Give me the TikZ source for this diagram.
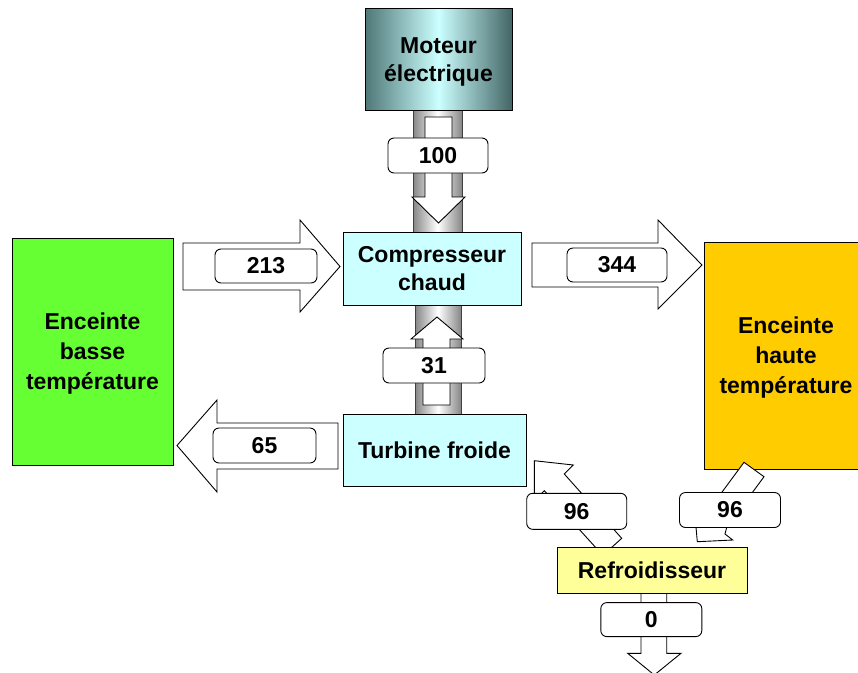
\documentclass[tikz,border=0pt]{standalone}
\usepackage{fontspec}
\setmainfont{Liberation Sans}
\definecolor{cyanbox}{HTML}{CCFFFF}
\definecolor{greenbox}{HTML}{66FF33}
\definecolor{orangebox}{HTML}{FFCC00}
\definecolor{yellowbox}{HTML}{FFFF99}
\definecolor{motdark}{HTML}{4F7777}
\definecolor{motlight}{HTML}{CCFFFF}
\begin{document}
\begin{tikzpicture}[x=1pt,y=-1pt,
  box/.style={draw=black, line width=0.9pt, align=center, inner sep=0pt, outer sep=0pt,
    font=\fontsize{23}{28}\selectfont\bfseries},
  tallbox/.style={box, font=\fontsize{23}{30}\selectfont\bfseries},
  boxtext/.style={align=center, inner sep=0pt, outer sep=0pt, draw=none},
  lbl/.style={draw=black, fill=white, rounded corners=6pt, line width=0.9pt,
    minimum width=101pt, minimum height=35pt, inner sep=0pt, outer sep=0pt,
    font=\fontsize{23}{28}\selectfont\bfseries},
  barrow/.style={draw=black, fill=white, line width=0.9pt, line join=miter},
  shaft/.style={left color=gray!95, right color=gray!95, middle color=white,
    draw=gray!50!black, line width=0.6pt}]
\clip (0,0) rectangle (858,672);
% shafts
\path[shaft] (413,110) rectangle (462,232);
\path[shaft] (415,305) rectangle (461,414);
% main boxes
\node[box, left color=motdark, right color=motdark!85!black, middle color=motlight,
  minimum width=147pt, minimum height=102pt] (mot) at (438.5,59) {};
\node[boxtext, font=\fontsize{23}{28}\selectfont\bfseries] (mottxt) at (438.5,61.5) {Moteur\\électrique};
\node[box, fill=cyanbox, minimum width=178pt, minimum height=73pt] (comp) at (432,268.5) {Compresseur\\chaud};
\node[box, fill=cyanbox, minimum width=183pt, minimum height=72pt] (turb) at (434.5,450) {Turbine froide};
\node[box, fill=greenbox, minimum width=161pt, minimum height=227pt] (basse) at (92.5,351.5) {};
\node[boxtext, font=\fontsize{23}{30}\selectfont\bfseries] (bassetxt) at (92.5,354) {Enceinte\\basse\\température};
\node[box, fill=orangebox, minimum width=164pt, minimum height=227pt] (haute) at (786,355.5) {};
\node[boxtext, font=\fontsize{23}{30}\selectfont\bfseries] (hautetxt) at (786,358) {Enceinte\\haute\\température};
% block arrows
% 100 : moteur -> compresseur
\draw[barrow] (425,117) -- (452,117) -- (452,197) -- (465,197) -- (438.5,223) -- (412,197) -- (425,197) -- cycle;
% 31 : turbine -> compresseur
\draw[barrow] (423,405) -- (450,405) -- (450,339) -- (463,339) -- (437,317) -- (411,339) -- (423,339) -- cycle;
% 213 : basse -> compresseur
\draw[barrow] (183,243) -- (300,243) -- (300,220) -- (340,266.5) -- (300,312) -- (300,290) -- (183,290) -- cycle;
% 344 : compresseur -> haute
\draw[barrow] (532,243) -- (658,243) -- (658,220) -- (702,265) -- (658,309) -- (658,287) -- (532,287) -- cycle;
% 65 : turbine -> basse
\draw[barrow] (338,423) -- (217,423) -- (217,400) -- (177,445.5) -- (217,492) -- (217,469) -- (338,469) -- cycle;
% 96 : refroidisseur -> turbine
\draw[barrow] (534.3,460.7) -- (573.3,465) -- (564.3,474) -- (621.7,538.3) -- (602.8,555.4) -- (544.3,490.7) -- (534.3,500.7) -- cycle;
% 96 : refroidisseur -> haute
\draw[barrow] (744,462.3) -- (764,476.7) -- (726.7,527.3) -- (725,534) -- (732.7,540) -- (697.3,541.7) -- (696,527.3) -- cycle;
% 0 : refroidisseur -> out
\draw[barrow] (641,592) -- (666.7,592) -- (666.7,653.3) -- (681,653.3) -- (654.3,675) -- (627.7,653.3) -- (641,653.3) -- cycle;
% refroidisseur
\node[box, fill=yellowbox, minimum width=190pt, minimum height=46pt] (refr) at (652,570) {Refroidisseur};
% labels
\node[lbl, minimum width=100pt] (l100) at (438,155.5) {100};
\node[lbl, minimum width=102pt, minimum height=34pt] (l213) at (266,266) {213};
\node[lbl, minimum width=100pt, minimum height=34pt] (l344) at (617,265) {344};
\node[lbl, minimum width=102pt] (l31) at (434,365.5) {31};
\node[lbl, minimum width=103pt] (l65) at (264.5,445.5) {65};
\node[lbl, minimum width=100pt, minimum height=36pt] (l96a) at (576.7,511.3) {96};
\node[lbl, minimum width=101pt] (l96b) at (730,510) {96};
\node[lbl, minimum width=101pt, minimum height=34pt] (l0) at (651.3,619.6) {0};
\end{tikzpicture}
\end{document}
